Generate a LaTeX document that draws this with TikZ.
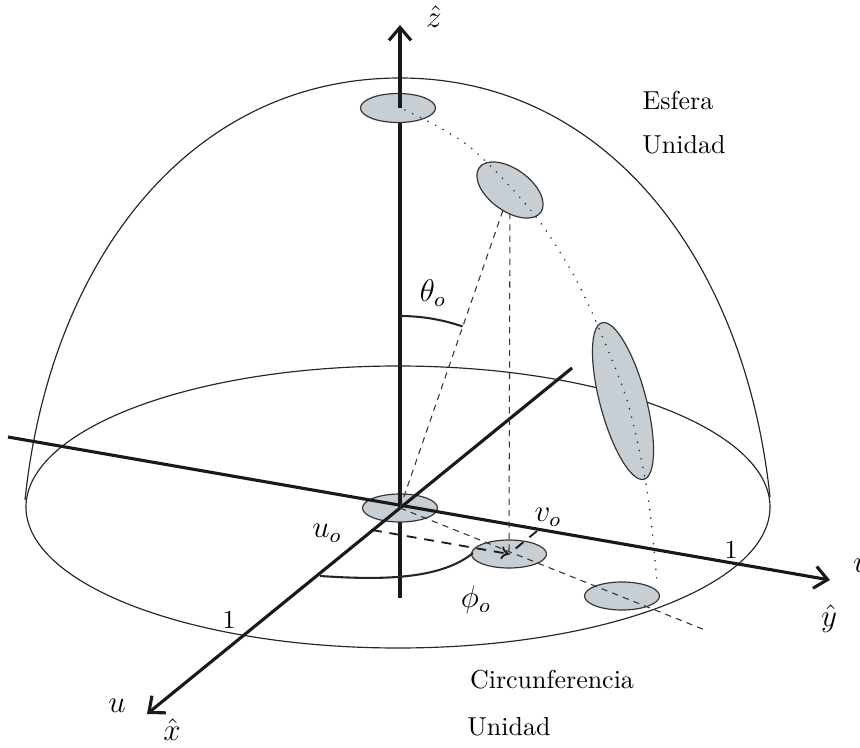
\documentclass[tikz,border=0pt]{standalone}
\usepackage{amsmath}
\usepackage{amssymb}
\usepackage{xcolor}
\usetikzlibrary{arrows.meta}
\definecolor{discgray}{RGB}{200,207,212}

\begin{document}
\begin{tikzpicture}[x=0.385pt, y=-0.385pt,
    thinline/.style={line width=0.45pt, black!85},
    axisline/.style={line width=1.2pt, black!90},
    axisarrow/.style={axisline, -{Straight Barb[length=5pt,width=8.5pt]}},
    disc/.style={fill=discgray, draw=black!80, line width=0.45pt},
    thindash/.style={line width=0.4pt, black!80, dash pattern=on 2.4pt off 2pt},
    thickdash/.style={line width=0.7pt, black!90, dash pattern=on 3.8pt off 3pt},
    meridian/.style={line width=0.7pt, black!80, line cap=round, dash pattern=on 0pt off 3.3pt},
    mathlab/.style={font=\large}]
    \useasboundingbox (0,0) rectangle (860,748);
    % points
    \coordinate (O) at (400,508);
    \coordinate (zbot) at (400,598);
    \coordinate (ztop) at (400,25);
    \coordinate (yl) at (8,437);
    \coordinate (yr) at (830,580);
    \coordinate (xr) at (572,368);
    \coordinate (xl) at (147,714);
    \coordinate (d1) at (398,108);
    \coordinate (d2) at (510,190);
    \coordinate (d3) at (623,401);
    \coordinate (d5) at (509,554);
    \coordinate (d6) at (622,596);
    \coordinate (uo) at (372,530);
    \coordinate (vo) at (537,531);
    \coordinate (dend) at (705,630);
    % esfera y circunferencia
    \draw[thinline] (25,500) .. controls (50,260) and (190,78) .. (400,78)
                    .. controls (607,78) and (745,260) .. (770,497);
    \draw[thinline] (398,507) ellipse [x radius=372, y radius=141];
    % ejes y discos
    \draw[axisline] (zbot) -- (O);
    \filldraw[disc] (O) ellipse [x radius=37.5, y radius=14];
    \filldraw[disc] (d5) ellipse [x radius=37.5, y radius=14];
    \filldraw[disc] (d6) ellipse [x radius=37.5, y radius=14];
    \draw[thinline, line width=0.8pt] (320,576) .. controls (380,580) and (440,580) .. (473,553);
    \draw[axisarrow] (yl) -- (yr);
    \draw[axisarrow] (xr) -- (xl);
    \draw[axisline] (O) -- (400,112);
    \draw[thindash] (O) -- (d2);
    \draw[thindash] (d2) -- (d5);
    \draw[thindash] (O) -- (dend);
    \filldraw[disc, rotate around={-36:(d2)}] (d2) ellipse [x radius=38, y radius=21];
    \filldraw[disc, rotate around={-75:(d3)}] (d3) ellipse [x radius=81, y radius=23];
    \filldraw[disc] (d1) ellipse [x radius=37.5, y radius=14.5];
    \draw[axisarrow] (400,108) -- (ztop);
    \draw[meridian] plot[smooth] coordinates {(405,110) (437,126) (470,147) (506,182) (537,218)
        (560,252) (580,287) (600,331) (627,400) (644,473) (651,520) (657,582)};
    \draw[thickdash, -{To[length=3pt,width=5pt]}] (uo) -- (d5);
    \draw[thickdash] (vo) -- (d5);
    \draw[thinline, line width=0.8pt] (O) ++(-90:192) arc[start angle=-90, end angle=-71, radius=192];
    % etiquetas
    \node[mathlab] (zhat) at (434,17) {$\hat{z}$};
    \node[mathlab] (yhat) at (829,619) {$\hat{y}$};
    \node[mathlab] (xhat) at (172,730) {$\hat{x}$};
    \node[mathlab] (vlab) at (861,566) {$v$};
    \node[mathlab] (ulab) at (117,706) {$u$};
    \node (unoy) at (731,550) {$1$};
    \node (unox) at (229,620) {$1$};
    \node[mathlab] (theta) at (433,293) {$\theta_o$};
    \node[mathlab] (phi) at (476,600) {$\phi_o$};
    \node[mathlab] (uolab) at (327,533) {$u_o$};
    \node[mathlab] (volab) at (548,517) {$v_o$};
    \node (esf) at (678,100) {Esfera};
    \node (esfu) at (684,145) {Unidad};
    \node (circ) at (552,680) {Circunferencia};
    \node (circu) at (509,727) {Unidad};
\end{tikzpicture}
\end{document}
